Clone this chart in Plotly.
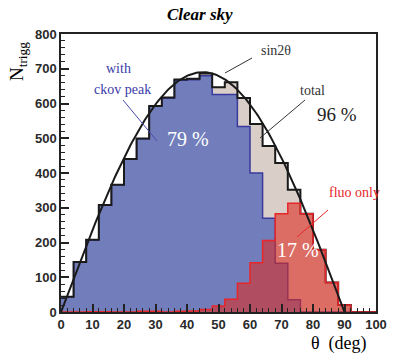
import numpy as np
import plotly.graph_objects as go

# theta bins (deg), 4 deg wide, left edges
theta_bins = [0, 4, 8, 12, 16, 20, 24, 28, 32, 36, 40, 44, 48,
              52, 56, 60, 64, 68, 72, 76, 80, 84, 88, 92, 96]
theta_end = 100

# all triggers
n_total = [44, 144, 208, 308, 366, 440, 499, 593, 617, 669, 671, 686, 647,
           661, 616, 541, 478, 429, 352, 283, 179, 85, 20, 0, 0]
# triggers with cherenkov peak
n_ckov = [44, 144, 207, 307, 366, 440, 498, 592, 615, 667, 668, 680, 626,
          626, 534, 400, 270, 140, 35, 0, 0, 0, 0, 0, 0]
# fluorescence only
n_fluo = [0, 0, 1, 1, 0, 0, 2, 2, 0, 2, 3, 7, 17,
          37, 83, 142, 206, 283, 313, 283, 179, 85, 20, 0, 0]

sin_amp = 690  # amplitude of the sin2theta curve

COLORS = {
    'beige': '#d9cec8',
    'blue_fill': '#717ebb',
    'blue_line': '#3a3a9e',
    'red_fill': 'rgba(220,45,35,0.6)',
    'red_line': '#e8262a',
    'black': '#1a1a1a',
}

W, H = 399, 360
ML, MR, MT, MB = 61, 23, 34, 48
PW, PH = W - ML - MR, H - MT - MB


def px(x, y):
    # pixel position -> paper coords of the plot area
    return (x - ML) / PW, (H - MB - y) / PH


def steps(vals):
    return theta_bins + [theta_end], vals + [vals[-1]]


fig = go.Figure()

x, y = steps(n_total)
fig.add_trace(go.Scatter(x=x, y=y, mode='lines', line=dict(width=0, shape='hv'),
                         fill='tozeroy', fillcolor=COLORS['beige'], hoverinfo='skip'))
x, y = steps(n_ckov)
fig.add_trace(go.Scatter(x=x, y=y, mode='lines',
                         line=dict(color=COLORS['blue_line'], width=1.5, shape='hv'),
                         fill='tozeroy', fillcolor=COLORS['blue_fill']))
x, y = steps(n_total)
fig.add_trace(go.Scatter(x=x, y=y, mode='lines',
                         line=dict(color=COLORS['black'], width=2, shape='hv')))
x, y = steps(n_fluo)
fig.add_trace(go.Scatter(x=x, y=y, mode='lines',
                         line=dict(color=COLORS['red_line'], width=1.5, shape='hv'),
                         fill='tozeroy', fillcolor=COLORS['red_fill']))

th = np.linspace(0, 90, 181)
fig.add_trace(go.Scatter(x=th, y=sin_amp * np.sin(np.radians(2 * th)), mode='lines',
                         line=dict(color=COLORS['black'], width=2)))

serif = 'Liberation Serif'
annotations = [
    (200, 15, '<b><i>Clear sky</i></b>', 17, 'black', 0),
    (18, 62, 'N<sub>trigg</sub>', 19, 'black', -90),
    (339, 343, 'θ  (deg)', 18, 'black', 0),
    (276, 51, 'sin2θ', 14, '#333333', 0),
    (312, 91, 'total', 14, '#333333', 0),
    (337, 114, '96 %', 19, '#222222', 0),
    (118, 68, 'with', 14, '#3a3aa8', 0),
    (122, 89, 'ckov peak', 14, '#3a3aa8', 0),
    (188, 139, '79 %', 20, 'white', 0),
    (354, 192, 'fluo only', 14, '#e8262a', 0),
    (298, 250, '17 %', 20, 'white', 0),
]
for ax, ay, txt, size, col, ang in annotations:
    xp, yp = px(ax, ay)
    fig.add_annotation(xref='paper', yref='paper', x=xp, y=yp, text=txt,
                       showarrow=False, textangle=ang, xanchor='center', yanchor='middle',
                       font=dict(family=serif, size=size, color=col))

# pointer lines
pointers = [
    ((252, 58), (225, 73), '#333333'),
    ((305, 100), (260, 138), '#333333'),
    ((123, 100), (157, 141), '#4a4ab0'),
    ((328, 210), (297, 237), '#e8262a'),
]
for (x0, y0), (x1, y1), c in pointers:
    p0, p1 = px(x0, y0), px(x1, y1)
    fig.add_shape(type='line', xref='paper', yref='paper',
                  x0=p0[0], y0=p0[1], x1=p1[0], y1=p1[1],
                  line=dict(color=c, width=1))

tickfont = dict(family='Liberation Sans', size=13, color='#2a2a2a', weight='bold')
fig.update_xaxes(range=[0, 100], dtick=10, ticks='inside', ticklen=8, tickwidth=1.5,
                 tickcolor='#222', showline=True, linecolor='#222', linewidth=1.5,
                 mirror=True, showgrid=False, zeroline=False, tickfont=tickfont,
                 minor=dict(dtick=2, ticks='inside', ticklen=4, tickcolor='#222', tickwidth=1))
fig.update_yaxes(range=[0, 800], dtick=100, ticks='inside', ticklen=8, tickwidth=1.5,
                 tickcolor='#222', showline=True, linecolor='#222', linewidth=1.5,
                 mirror=True, showgrid=False, zeroline=False, tickfont=tickfont,
                 minor=dict(dtick=20, ticks='inside', ticklen=4, tickcolor='#222', tickwidth=1))

fig.update_layout(
    width=W, height=H,
    margin=dict(l=ML, r=MR, t=MT, b=MB),
    paper_bgcolor='white', plot_bgcolor='white',
    showlegend=False,
)

fig.write_html("out.html", config={'displayModeBar': False},
               post_script="document.body.style.margin='0';")
